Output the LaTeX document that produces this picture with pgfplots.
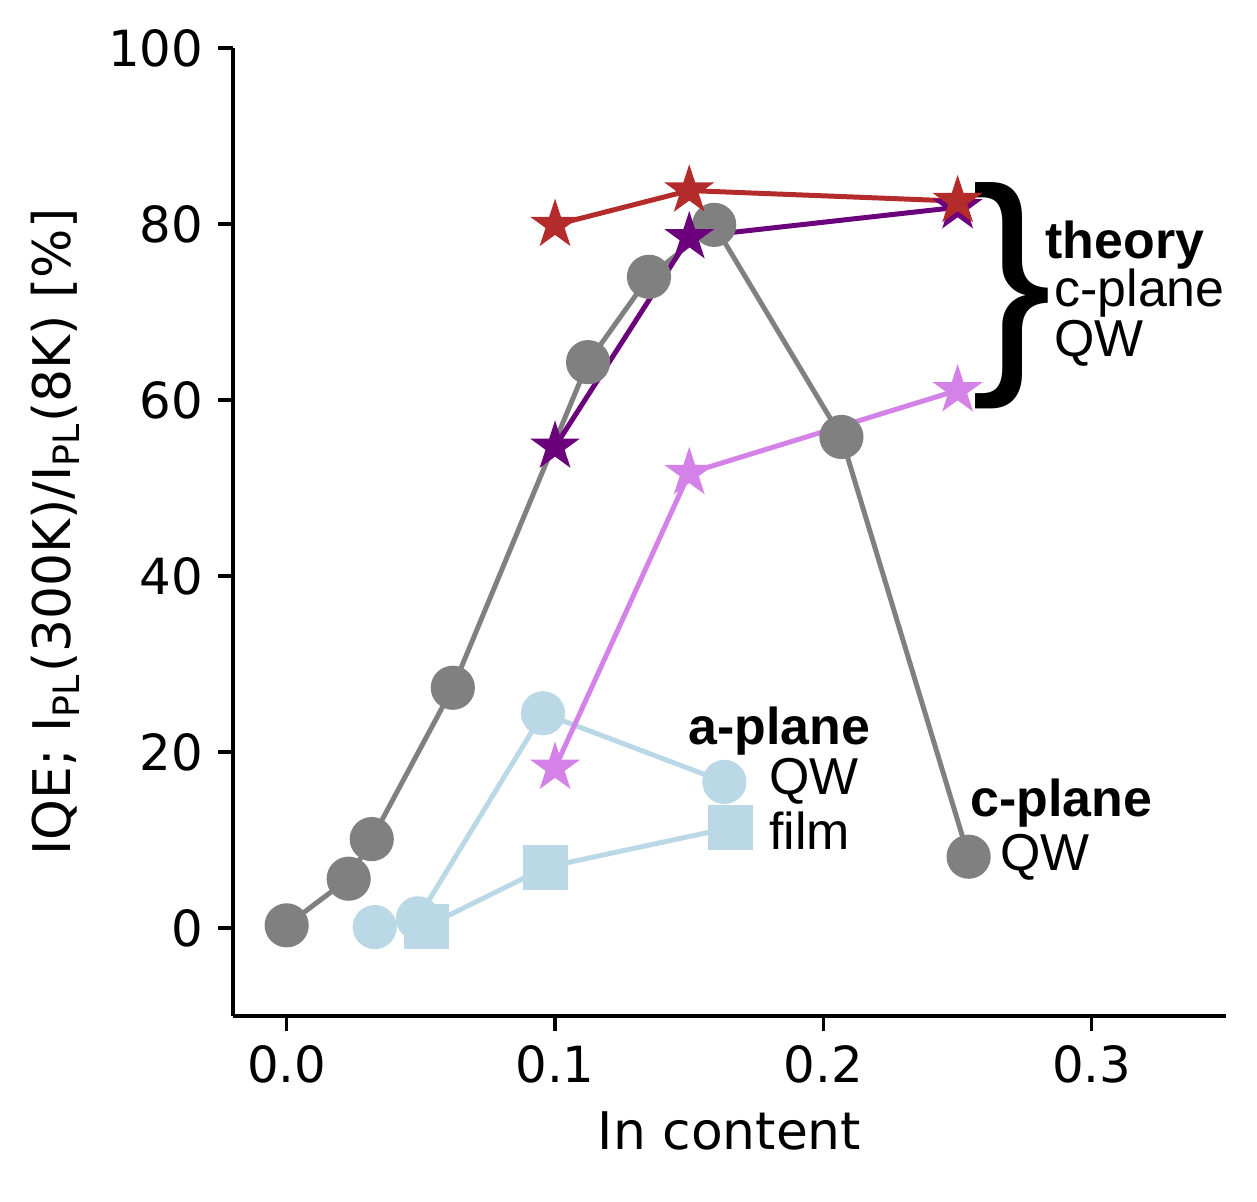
\documentclass[border=0pt]{standalone}
\usepackage{fontspec}
\setmainfont{DejaVu Sans}
\newfontfamily\arial{Liberation Sans}
\usepackage{pgfplots}
\pgfplotsset{compat=1.18}
\usetikzlibrary{calc}
\definecolor{cgray}{HTML}{808080}
\definecolor{clblue}{HTML}{BAD8E5}
\definecolor{cred}{HTML}{B42B2B}
\definecolor{cpurple}{HTML}{6C007C}
\definecolor{cviolet}{HTML}{D582E8}
\pgfdeclareplotmark{fstar}{%
  \pgfpathmoveto{\pgfpointpolar{90}{\pgfplotmarksize}}%
  \pgfpathlineto{\pgfpointpolar{126}{0.382\pgfplotmarksize}}%
  \pgfpathlineto{\pgfpointpolar{162}{\pgfplotmarksize}}%
  \pgfpathlineto{\pgfpointpolar{198}{0.382\pgfplotmarksize}}%
  \pgfpathlineto{\pgfpointpolar{234}{\pgfplotmarksize}}%
  \pgfpathlineto{\pgfpointpolar{270}{0.382\pgfplotmarksize}}%
  \pgfpathlineto{\pgfpointpolar{306}{\pgfplotmarksize}}%
  \pgfpathlineto{\pgfpointpolar{342}{0.382\pgfplotmarksize}}%
  \pgfpathlineto{\pgfpointpolar{18}{\pgfplotmarksize}}%
  \pgfpathlineto{\pgfpointpolar{54}{0.382\pgfplotmarksize}}%
  \pgfpathclose\pgfusepathqfill}
\begin{document}
\begin{tikzpicture}
\begin{axis}[
  name=ax,
  scale only axis,
  width=238.3bp, height=232.3bp,
  xmin=-0.02, xmax=0.35, ymin=-10, ymax=100,
  axis lines=left,
  axis line style={-, line width=0.8pt},
  tick align=outside,
  major tick length=3.6bp,
  tick style={black, line width=0.8pt},
  xtick={0,0.1,0.2,0.3},
  ytick={0,20,40,60,80,100},
  xticklabel style={/pgf/number format/.cd, fixed, fixed zerofill, precision=1},
  /pgf/number format/assume math mode=true,
  tick label style={font=\fontsize{12}{14}\selectfont},
  label style={font=\fontsize{12.5}{15}\selectfont},
  xlabel={In content},
  ylabel={IQE; I\textsubscript{PL}(300K)/I\textsubscript{PL}(8K) [\%]},
  clip=false,
]
% c-plane QW (experiment)
\addplot[cgray, line width=1.2pt, mark=*, mark size=4.7bp, mark options={fill=cgray, draw=cgray}]
coordinates {(0,0.3) (0.0231,5.6) (0.0317,10.1) (0.0619,27.3) (0.1123,64.3) (0.135,74.0) (0.1593,79.9) (0.2067,55.8) (0.2541,8.1)};
% a-plane QW
\addplot[clblue, line width=1.2pt, mark=*, mark size=4.7bp, mark options={fill=clblue, draw=clblue}]
coordinates {(0.0328,0.1) (0.0489,1.1) (0.0955,24.4) (0.1631,16.6)};
% a-plane film
\addplot[clblue, line width=1.2pt, mark=square*, mark size=4.8bp, mark options={fill=clblue, draw=clblue}]
coordinates {(0.0522,0.2) (0.0966,6.9) (0.1653,11.4)};
% theory
\addplot[cviolet, line width=1.2pt, mark=fstar, mark size=6.3bp, mark options={fill=cviolet}]
coordinates {(0.1,18.2) (0.15,51.7) (0.25,61.1)};
\addplot[cpurple, line width=1.2pt, mark=fstar, mark size=6.3bp, mark options={fill=cpurple}]
coordinates {(0.1,54.7) (0.15,78.5) (0.25,81.9)};
\addplot[cred, line width=1.2pt, mark=fstar, mark size=6.3bp, mark options={fill=cred}]
coordinates {(0.1,79.9) (0.15,83.8) (0.25,82.6)};
% annotations
\node[inner sep=0pt, font=\arial\fontsize{58.5}{60}\selectfont] at (axis cs:0.2703,71.9) {\}};
\node[anchor=west, inner sep=0pt, font=\arial\fontsize{12.5}{15}\selectfont\bfseries] at (axis cs:0.2825,77.6) {theory};
\node[anchor=west, inner sep=0pt, font=\arial\fontsize{12.5}{15}\selectfont] at (axis cs:0.2858,72.2) {c-plane};
\node[anchor=west, inner sep=0pt, font=\arial\fontsize{12.5}{15}\selectfont] at (axis cs:0.2858,66.4) {QW};
\node[anchor=west, inner sep=0pt, font=\arial\fontsize{12.5}{15}\selectfont\bfseries] at (axis cs:0.1493,22.4) {a-plane};
\node[anchor=west, inner sep=0pt, font=\arial\fontsize{12.5}{15}\selectfont] at (axis cs:0.1795,16.7) {QW};
\node[anchor=west, inner sep=0pt, font=\arial\fontsize{12.5}{15}\selectfont] at (axis cs:0.1795,11.0) {film};
\node[anchor=west, inner sep=0pt, font=\arial\fontsize{12.5}{15}\selectfont\bfseries] at (axis cs:0.2545,14.2) {c-plane};
\node[anchor=west, inner sep=0pt, font=\arial\fontsize{12.5}{15}\selectfont] at (axis cs:0.2657,8.0) {QW};
\end{axis}
\pgfresetboundingbox
\path[use as bounding box] ($(ax.south west)+(-55.92bp,-44.64bp)$) rectangle ($(ax.north east)+(7.44bp,11.52bp)$);
\end{tikzpicture}
\end{document}
